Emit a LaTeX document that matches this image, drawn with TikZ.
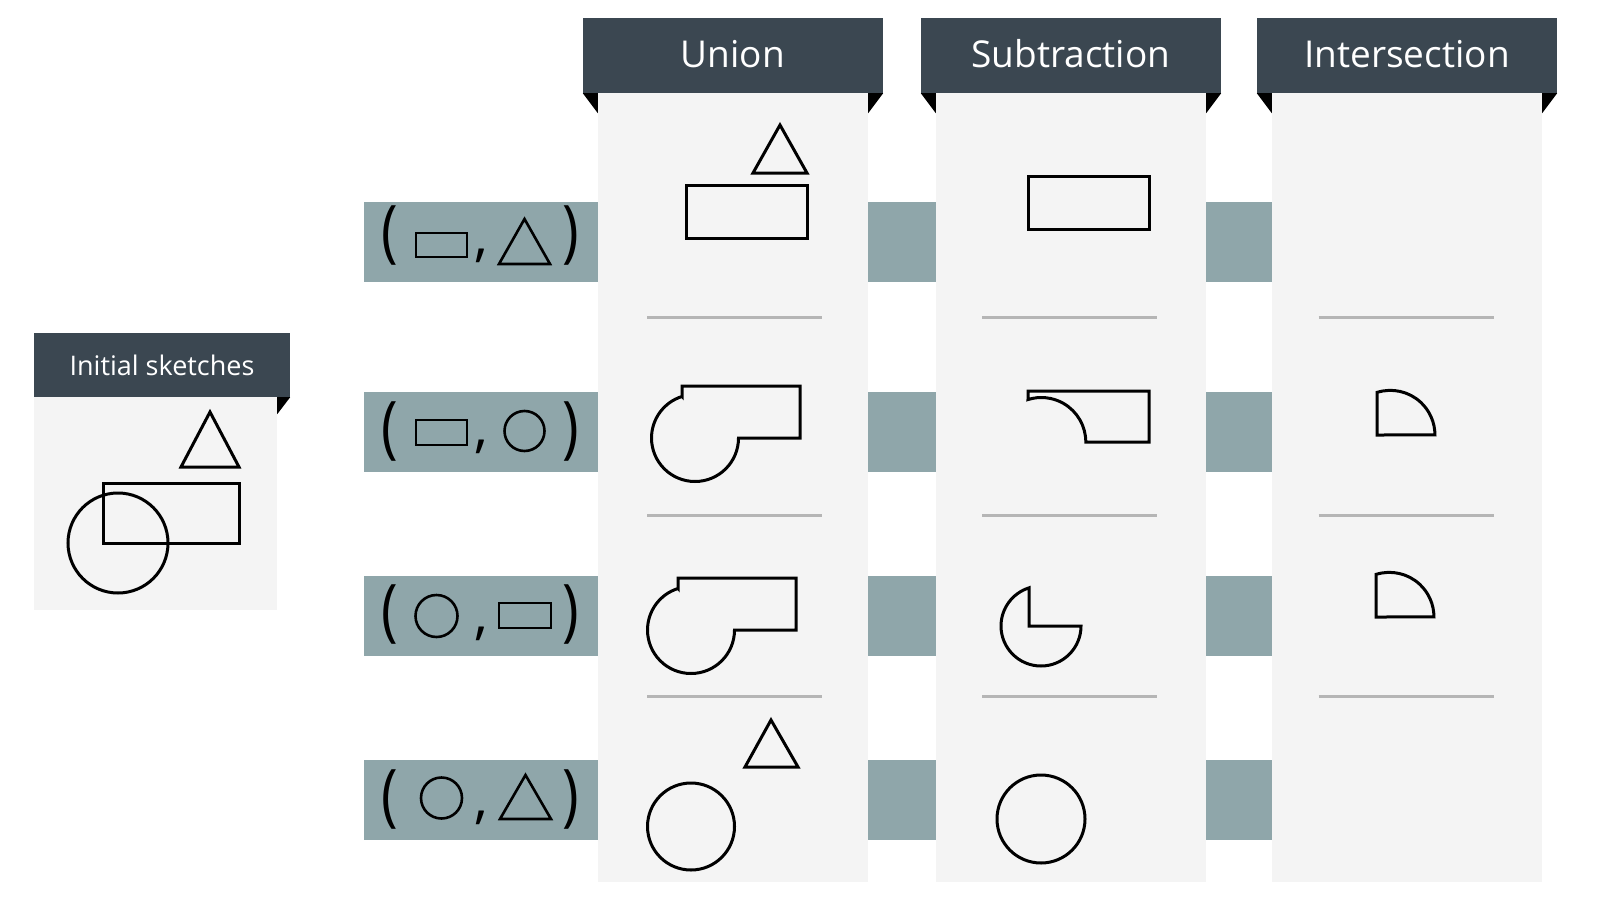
\documentclass[tikz,border=0pt]{standalone}
\usepackage{fontspec}
\setmainfont{Open Sans}
\usepackage{xcolor}
\usepackage{graphicx}
\usepackage{tikz}
\usetikzlibrary{calc, positioning}

\definecolor{headcol}{HTML}{3B4751}
\definecolor{bandcol}{HTML}{8FA6AA}
\definecolor{panelcol}{HTML}{F4F4F4}
\definecolor{linecol}{HTML}{B5B5B5}

\begin{document}
\begin{tikzpicture}[x=1pt, y=-1pt,
    header/.style={fill=headcol, text=white, inner sep=0pt, minimum width=300pt, minimum height=75pt,
        text height=23pt, text depth=0pt, font=\fontsize{37}{42}\selectfont},
    fold/.style={fill=black},
    panel/.style={fill=panelcol},
    band/.style={fill=bandcol},
    divider/.style={draw=linecol, line width=3pt},
    sketch/.style={draw=black, line width=3pt},
    small/.style={draw=black, line width=2.6pt},
    paren/.style={inner sep=0pt, font=\fontsize{56}{60}\selectfont},
    comma/.style={inner sep=0pt, font=\fontsize{56}{60}\selectfont}]
    \useasboundingbox (0,0) rectangle (1600,899);

    % 1. Các dải xám và các cột
    \foreach \y in {202, 392, 576, 760}
        \fill[band] (364,\y) rectangle (1272,\y+80);
    \foreach \x in {598, 936, 1272}
        \fill[panel] (\x,93) rectangle (\x+270,882);
    \fill[panel] (34,397) rectangle (277,610);

    % 2. Tiêu đề
    \node[header] (union) at (733,55.5) {Union};
    \node[header] (subtraction) at (1071,55.5) {Subtraction};
    \node[header] (intersection) at (1407,55.5) {Intersection};
    \node[header, minimum width=256pt, minimum height=64pt, text height=20pt,
        font=\fontsize{27}{32}\selectfont] (initial) at (162,365) {Initial sketches};
    \foreach \n in {union, subtraction, intersection} {
        \fill[fold] (\n.south west) -- ++(15,0) -- ++(0,20) -- cycle;
        \fill[fold] (\n.south east) -- ++(-15,0) -- ++(0,20) -- cycle;
    }
    \fill[fold] (initial.south east) -- ++(-13,0) -- ++(0,17) -- cycle;

    % 3. Các đường phân cách
    \foreach \x in {734.5, 1069.5, 1406}
        \foreach \y in {317, 515, 696}
            \draw[divider] (\x-87.5,\y) -- (\x+87.5,\y);

    % 4. Hình phác ban đầu
    \draw[sketch] (210,412) -- (239,467) -- (181,467) -- cycle;
    \draw[sketch] (103,483) rectangle (239,543);
    \draw[sketch] (118,543) circle[radius=50];

    % 5. Nhãn các cặp
    \foreach \y/\c [count=\i] in {236/256, 431.5/446.5, 615/634, 800/818} {
        \node[paren] (lp\i) at (390,\y) {\scalebox{1}[1.22]{(}};
        \node[comma] (cm\i) at (481,\c) {,};
        \node[paren] (rp\i) at (571,\y) {\scalebox{1}[1.22]{)}};
    }
    \draw[small] (416,233) rectangle (467,257);
    \draw[small] (524.5,219) -- (550,264) -- (499,264) -- cycle;
    \draw[small] (416,420) rectangle (467,445);
    \draw[small] (524.5,431) circle[radius=20];
    \draw[small] (436.5,616) circle[radius=21];
    \draw[small] (499,603) rectangle (551,628);
    \draw[small] (441.5,798) circle[radius=20.5];
    \draw[small] (525.5,775) -- (551,819) -- (500,819) -- cycle;

    % 6. Hợp
    \draw[sketch] (780,125) -- (807,173) -- (753,173) -- cycle;
    \draw[sketch] (686,185) rectangle (807,238);
    \draw[sketch] (682,396.5) -- (682,386) -- (800,386) -- (800,438) -- (738.5,438)
        arc[start angle=0, end angle=252.6, radius=43.5] -- cycle;
    \draw[sketch] (678,588.5) -- (678,578) -- (796,578) -- (796,630) -- (734.5,630)
        arc[start angle=0, end angle=252.6, radius=43.5] -- cycle;
    \draw[sketch] (771,720) -- (798,767) -- (745,767) -- cycle;
    \draw[sketch] (691,826.5) circle[radius=43.5];

    % 7. Hiệu
    \draw[sketch] (1028,176) rectangle (1149,229);
    \draw[sketch] (1028,399.5) -- (1028,391) -- (1149,391) -- (1149,442) -- (1085.8,442)
        arc[start angle=0, end angle=-107.4, radius=44.5] -- cycle;
    \draw[sketch] (1029,626) -- (1081,626) arc[start angle=0, end angle=252.6, radius=40] -- cycle;
    \draw[sketch] (1041,819) circle[radius=44];

    % 8. Giao
    \draw[sketch] (1377,435) -- (1377,392.4) arc[start angle=252.6, end angle=360, radius=44.6] -- cycle;
    \draw[sketch] (1376,617) -- (1376,574.4) arc[start angle=252.6, end angle=360, radius=44.6] -- cycle;
\end{tikzpicture}
\end{document}
